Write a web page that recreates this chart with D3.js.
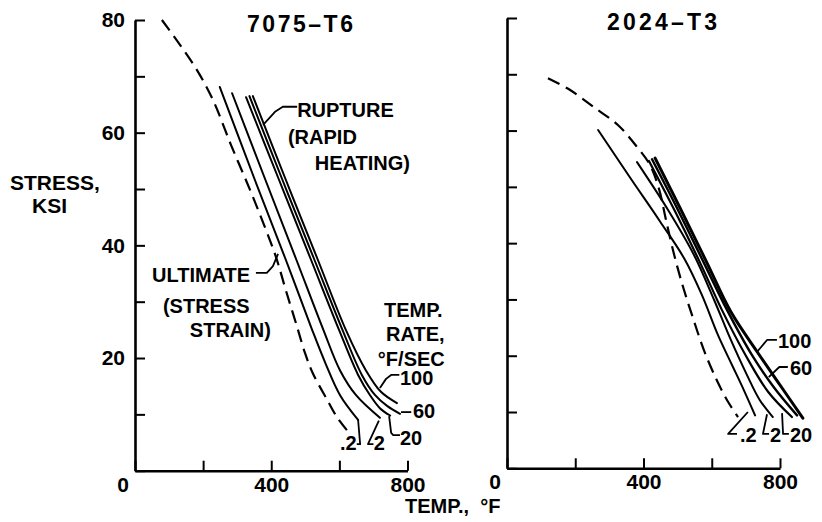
<!DOCTYPE html>
<html>
<head>
<meta charset="utf-8">
<script src="https://cdn.jsdelivr.net/npm/d3@7"></script>
<style>
  body { margin: 0; background: #fff; }
  svg text { font-family: "Liberation Sans", Arial, sans-serif; font-weight: bold; fill: #000; }
</style>
</head>
<body>
<svg id="chart" width="822" height="522"></svg>
<script>
// ---- axis ticks ----
const tempTicks = [0, 200, 400, 600, 800];
const tempTickLabels = [400, 800];
const stressTicks = [0, 10, 20, 30, 40, 50, 60, 70, 80];
const stressTickLabels = [20, 40, 60, 80];

// ---- 7075-T6 : [temperature °F, stress ksi] ----
const ult7075 = [[79, 80], [132, 75.6], [182, 71.1], [229, 65.8], [282, 57.8], [338, 49.8], [379, 43.6],
                 [414, 37.9], [443, 32], [476, 25.5], [499, 20.9], [522, 17.3], [564, 12.6], [593, 9.5], [622, 7.2]];
const rate02_7075 = [[249, 68.1], [352, 51.6], [443, 37.4], [520, 25], [561, 18.8], [602, 13.4], [655, 9]];
const rate2_7075 = [[285, 67], [383, 51.6], [474, 37.4], [553, 25], [602, 17.8], [649, 13.4], [719, 9.4]];
const rate20_7075 = [[326, 66.3], [423, 51.6], [517, 37.4], [599, 25], [655, 17], [690, 13.4], [719, 11.1], [749, 9.8]];
const rate60_7075 = [[336, 66.5], [433, 51.6], [527, 37.4], [609, 25], [666, 17], [705, 13.4], [740, 11.5], [778, 10.1]];
const rate100_7075 = [[346, 66.5], [443, 51.6], [537, 37.4], [619, 25], [678, 17.8], [722, 14], [769, 12]];

// ---- 2024-T3 : [temperature °F, stress ksi] ----
const ult2024 = [[120, 69.3], [185, 67.2], [258, 64], [325, 61], [381, 57.1], [419, 53.9], [446, 49.5],
                 [466, 44.1], [490, 37.9], [516, 32.2], [545, 26.7], [577, 21], [612, 16], [645, 12.1], [677, 9.1]];
const rate02_2024 = [[267, 60.1], [360, 51.7], [448, 43.9], [519, 37.3], [571, 30.8], [618, 23.7], [659, 18.4], [694, 13.9], [727, 9.4]];
const rate2_2024 = [[381, 54.4], [472, 45.9], [548, 37.9], [607, 29.9], [656, 22.8], [703, 16.6], [741, 12.1], [779, 9.1]];
const rate20_2024 = [[416, 54.6], [492, 45.7], [566, 36.5], [630, 28.1], [700, 20], [765, 13.6], [835, 9.1]];
const rate60_2024 = [[425, 54.9], [501, 45.9], [577, 36.5], [645, 28.1], [718, 20.1], [783, 14.3], [850, 9.4]];
const rate100_2024 = [[434, 55.1], [510, 45.9], [586, 36.5], [656, 27.8], [733, 20.7], [800, 14.8], [867, 8.9]];

const svg = d3.select("#chart");

const panels = [
  {
    title: "7075\u2013T6", titleX: 300, titleY: 31.5, titleW: 106,
    xRange: [135, 407.5], yRange: [470.7, 20], yLabels: true,
    dashed: ult7075,
    solid: [
      { d: rate02_7075, w: 2 }, { d: rate2_7075, w: 2 }, { d: rate20_7075, w: 2 },
      { d: rate60_7075, w: 2 }, { d: rate100_7075, w: 2 }
    ],
    notes: [
      { text: "RUPTURE", t: 476, s: 62.7 },
      { text: "(RAPID", t: 449, s: 58.0 },
      { text: "HEATING)", t: 528, s: 53.4 },
      { text: "ULTIMATE", t: 50, s: 33.5 },
      { text: "(STRESS", t: 82, s: 28.0 },
      { text: "STRAIN)", t: 161, s: 23.7 },
      { text: "TEMP.", t: 731, s: 27.3 },
      { text: "RATE,", t: 737, s: 23.0 },
      { text: "\u00B0F/SEC", t: 713, s: 18.5 },
      { text: "100", t: 778, s: 15.3 },
      { text: "60", t: 816, s: 9.4 },
      { text: "20", t: 778, s: 4.5 },
      { text: "2", t: 701, s: 3.7 },
      { text: ".2", t: 602, s: 3.7 }
    ],
    leaders: [
      [[376, 61.4], [411, 63.7], [434, 64.6], [476, 64.6]],
      [[355, 35.1], [387, 35.1], [405, 36.3], [420, 38.5]],
      [[719, 14.7], [737, 16.3], [752, 17.0], [776, 17.0]],
      [[781, 10.4], [811, 10.4]],
      [[746, 9.7], [752, 6.7], [758, 6.3], [778, 6.3]],
      [[716, 8.9], [684, 4.7], [700, 4.7]],
      [[655, 9.0], [661, 4.7], [651, 4.7]]
    ]
  },
  {
    title: "2024\u2013T3", titleX: 662, titleY: 30, titleW: 110,
    xRange: [507, 780], yRange: [468.3, 18], yLabels: false,
    dashed: ult2024,
    solid: [
      { d: rate02_2024, w: 2 }, { d: rate2_2024, w: 2 }, { d: rate20_2024, w: 2.2 },
      { d: rate60_2024, w: 2.4 }, { d: rate100_2024, w: 3 }
    ],
    notes: [
      { text: "100", t: 794, s: 21.4 },
      { text: "60", t: 829, s: 16.6 },
      { text: ".2", t: 683, s: 4.6 },
      { text: "2", t: 771, s: 4.6 },
      { text: "20", t: 829, s: 4.6 }
    ],
    leaders: [
      [[733, 20.7], [762, 22.8], [791, 22.8]],
      [[767, 16.2], [798, 18.0], [823, 18.0]],
      [[706, 10.0], [648, 6.1], [674, 6.1]],
      [[762, 9.6], [750, 6.1], [768, 6.1]],
      [[806, 9.8], [809, 6.1], [826, 6.1]]
    ]
  }
];

panels.forEach(p => {
  const x = d3.scaleLinear().domain([0, 800]).range(p.xRange);
  const y = d3.scaleLinear().domain([0, 80]).range(p.yRange);
  const g = svg.append("g");

  // y axis, ticks pointing inward
  const yAxis = d3.axisLeft(y)
    .tickValues(stressTicks)
    .tickSizeInner(-10).tickSizeOuter(0).tickPadding(10)
    .tickFormat(d => p.yLabels && stressTickLabels.includes(d) ? d : "");
  const ya = g.append("g").attr("transform", `translate(${p.xRange[0]},0)`).call(yAxis);

  // x axis, ticks pointing inward
  const xAxis = d3.axisBottom(x)
    .tickValues(tempTicks)
    .tickSizeInner(-10).tickSizeOuter(0).tickPadding(6)
    .tickFormat(d => tempTickLabels.includes(d) ? d : "");
  const xa = g.append("g").attr("transform", `translate(0,${p.yRange[0]})`).call(xAxis);

  [ya, xa].forEach(a => {
    a.select(".domain").attr("stroke", "#000").attr("stroke-width", 2.6);
    a.selectAll(".tick line").attr("stroke", "#000").attr("stroke-width", 2);
    a.selectAll(".tick text").attr("font-size", 21).attr("fill", "#000")
      .attr("font-family", "Liberation Sans, Arial, sans-serif").attr("font-weight", "bold");
  });

  // origin label sits just left of the corner
  g.append("text").attr("x", x(0) - 12).attr("y", p.yRange[0] + 21)
    .attr("text-anchor", "middle").attr("font-size", 21).text("0");

  // title
  g.append("text").attr("x", p.titleX).attr("y", p.titleY)
    .attr("text-anchor", "middle").attr("font-size", 23)
    .attr("textLength", p.titleW).attr("lengthAdjust", "spacing")
    .text(p.title);

  const line = d3.line().x(d => x(d[0])).y(d => y(d[1])).curve(d3.curveCatmullRom.alpha(0.5));

  // ultimate (stress-strain) curve
  g.append("path").datum(p.dashed).attr("d", line)
    .attr("fill", "none").attr("stroke", "#000").attr("stroke-width", 2.2)
    .attr("stroke-dasharray", "13,7");

  // rupture curves for each heating rate
  p.solid.forEach(s => {
    g.append("path").datum(s.d).attr("d", line)
      .attr("fill", "none").attr("stroke", "#000").attr("stroke-width", s.w)
      .attr("stroke-linecap", "round");
  });

  // leader lines
  const leader = d3.line().x(d => x(d[0])).y(d => y(d[1])).curve(d3.curveLinear);
  p.leaders.forEach(l => {
    g.append("path").datum(l).attr("d", leader)
      .attr("fill", "none").attr("stroke", "#000").attr("stroke-width", 1.8)
      .attr("stroke-linejoin", "round");
  });

  // annotations
  p.notes.forEach(n => {
    g.append("text").attr("x", x(n.t)).attr("y", y(n.s))
      .attr("font-size", 20).text(n.text);
  });
});

// axis titles
svg.append("text").attr("x", 10).attr("y", 190).attr("font-size", 21).text("STRESS,");
svg.append("text").attr("x", 32).attr("y", 213).attr("font-size", 21).text("KSI");
svg.append("text").attr("x", 405).attr("y", 513).attr("font-size", 20).text("TEMP.,  \u00B0F")
  .attr("style", "white-space:pre");
</script>
</body>
</html>
